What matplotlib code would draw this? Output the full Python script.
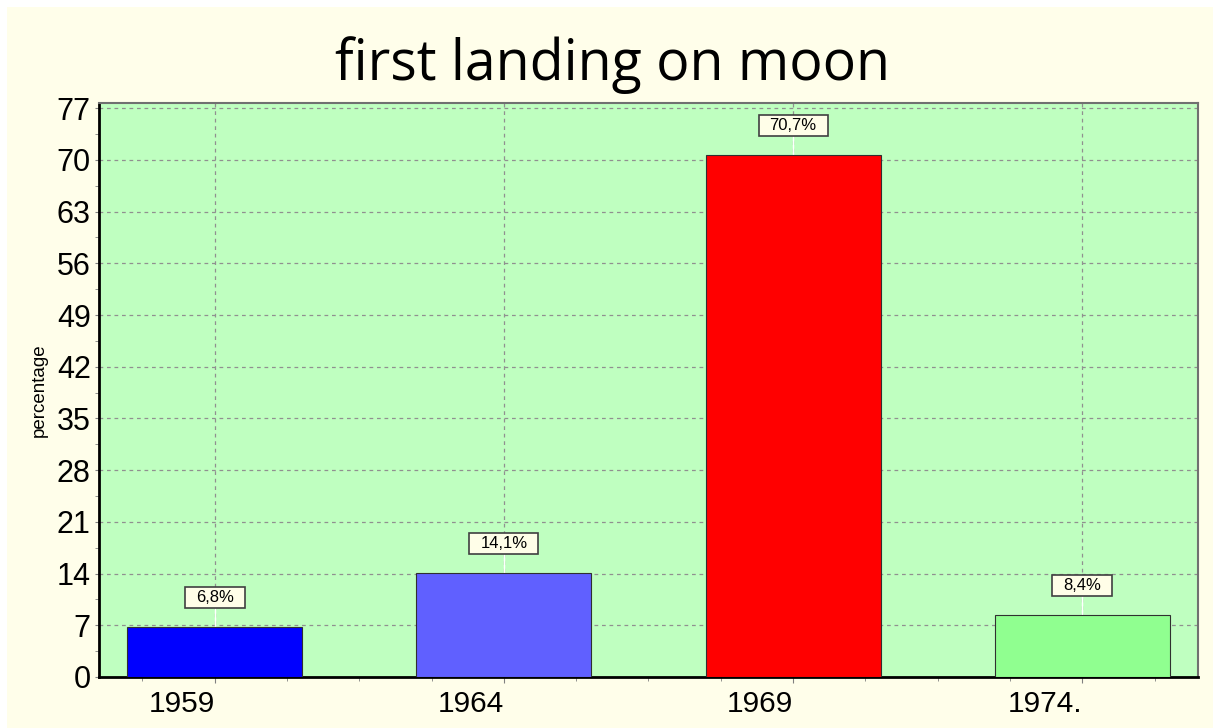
import matplotlib.pyplot as plt
from matplotlib.patches import Rectangle
from matplotlib.ticker import MultipleLocator

# data
years = ["1959", "1964", "1969", "1974."]
values = [6.8, 14.1, 70.7, 8.4]
labels = ["6,8%", "14,1%", "70,7%", "8,4%"]
colors = ["#0000FF", "#6060FF", "#FF0000", "#90FF90"]

W, H = 1213, 728
fig = plt.figure(figsize=(W / 100, H / 100), dpi=100, facecolor="white")
# cream background with thin white border top/left
fig.patches.append(Rectangle((7 / W, 0), 1, 1 - 7 / H, transform=fig.transFigure,
                             facecolor="#FFFEEA", edgecolor="none", zorder=-10))

ax = fig.add_axes([99 / W, 1 - 677 / H, (1198 - 99) / W, (677 - 103) / H])
ax.set_facecolor("#BFFFC0")

x = range(len(years))
ax.bar(x, values, width=0.605, color=colors, edgecolor="#303030", linewidth=0.8, zorder=3)

# value labels with white leader lines
texts = []
for i, (v, lab) in enumerate(zip(values, labels)):
    ax.plot([i, i], [v, v + 3.0], color="white", linewidth=1, zorder=2.5)
    t = ax.text(i, v + 3.95, lab, ha="center", va="center", fontsize=12,
                family="Liberation Sans", zorder=5)
    texts.append(t)

ax.set_xlim(-0.4, 3.4)
ax.set_ylim(0, 77.7)
ax.set_xticks(list(x))
ax.set_xticklabels(years, fontsize=21.5, family="Liberation Sans", ha="right")
ax.xaxis.set_minor_locator(MultipleLocator(0.25))
ax.yaxis.set_major_locator(MultipleLocator(7))
ax.yaxis.set_minor_locator(MultipleLocator(3.5))
for t in ax.get_yticklabels():
    t.set_fontsize(22)
    t.set_family("Liberation Sans")

ax.tick_params(axis="both", which="both", length=3, color="#808080", pad=3)
ax.tick_params(axis="x", which="major", length=4, pad=5)

ax.grid(True, which="major", color="#909090", linestyle=(0, (3, 3)), linewidth=0.9, zorder=1)
ax.set_axisbelow(True)

for s in ["top", "right"]:
    ax.spines[s].set_color("#707070")
    ax.spines[s].set_linewidth(1.5)
for s in ["left", "bottom"]:
    ax.spines[s].set_color("black")
    ax.spines[s].set_linewidth(2)

ax.set_ylabel("percentage", fontsize=13.5, family="Liberation Sans", labelpad=6)

fig.text(0.505, 0.91, "first landing on moon", ha="center", va="center",
         fontsize=40, family="Open Sans")

# boxes around value labels, padded wider than tall
fig.canvas.draw()
inv = fig.transFigure.inverted()
for t in texts:
    bb = t.get_window_extent()
    (x0, y0) = inv.transform((bb.x0 - 11, bb.y0 - 3))
    (x1, y1) = inv.transform((bb.x1 + 11, bb.y1 + 3))
    fig.patches.append(Rectangle((x0, y0), x1 - x0, y1 - y0, transform=fig.transFigure,
                                 facecolor="#FFFEE8", edgecolor="#404040", linewidth=1.2,
                                 zorder=4))
# draw texts on top of boxes
for t in texts:
    t.remove()
    bb_pos = t.get_position()
    fig.text(*inv.transform(ax.transData.transform(bb_pos)), t.get_text(), ha="center",
             va="center", fontsize=12, family="Liberation Sans", zorder=6)

fig.savefig("out.png", dpi=100, facecolor=fig.get_facecolor())
